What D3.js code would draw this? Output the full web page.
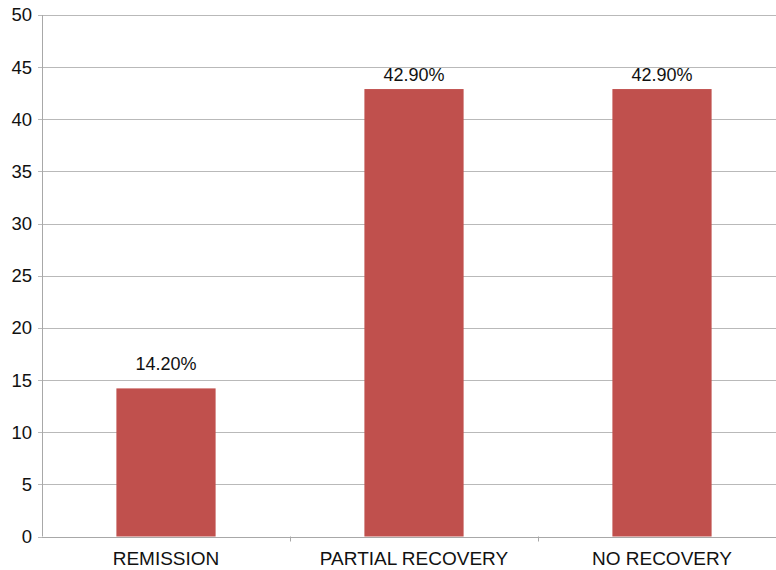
<!DOCTYPE html>
<html>
<head>
<meta charset="utf-8">
<script src="https://cdn.jsdelivr.net/npm/d3@7/dist/d3.min.js"></script>
<style>
  html, body { margin: 0; padding: 0; background: #fff; }
  svg { display: block; }
  text { font-family: "Liberation Sans", Arial, sans-serif; fill: #111; }
</style>
</head>
<body>
<svg id="chart" width="776" height="570"></svg>
<script>
// Outcome categories and their share of patients (%)
const categories = ["REMISSION", "PARTIAL RECOVERY", "NO RECOVERY"];
const values = [14.2, 42.9, 42.9];
const valueLabels = ["14.20%", "42.90%", "42.90%"];
const yTicks = [0, 5, 10, 15, 20, 25, 30, 35, 40, 45, 50];

const svg = d3.select("#chart");
const margin = { left: 42, top: 15, bottom: 33 };
const plotRight = 786; // plot area runs slightly past the visible edge
const height = 570;

const x = d3.scaleBand()
  .domain(categories)
  .range([margin.left, plotRight])
  .paddingInner(0.6)
  .paddingOuter(0.3);

const xOuter = d3.scaleBand()
  .domain(categories)
  .range([margin.left, plotRight]);

const y = d3.scaleLinear()
  .domain([0, 50])
  .range([height - margin.bottom - 0.5, margin.top]);

// Horizontal gridlines with small ticks left of the axis
const grid = svg.append("g");
grid.selectAll("line")
  .data(yTicks)
  .join("line")
  .attr("x1", margin.left - 4)
  .attr("x2", 776)
  .attr("y1", d => Math.round(y(d)) + 0.5)
  .attr("y2", d => Math.round(y(d)) + 0.5)
  .attr("stroke", "#b9b9b9")
  .attr("stroke-width", 1);

// Y axis labels
svg.append("g").selectAll("text")
  .data(yTicks)
  .join("text")
  .attr("x", 32)
  .attr("y", d => y(d))
  .attr("dy", "0.35em")
  .attr("text-anchor", "end")
  .style("font-size", "18.5px")
  .text(d => d);

// Bars
svg.append("g").selectAll("rect")
  .data(values)
  .join("rect")
  .attr("x", (d, i) => x(categories[i]))
  .attr("width", x.bandwidth())
  .attr("y", d => y(d))
  .attr("height", d => y(0) - y(d))
  .attr("fill", "#c0504d");

// Y axis line
svg.append("line")
  .attr("x1", margin.left + 0.5)
  .attr("x2", margin.left + 0.5)
  .attr("y1", y(50))
  .attr("y2", y(0))
  .attr("stroke", "#a8a8a8");

// X axis baseline and category separator ticks
svg.append("line")
  .attr("x1", margin.left)
  .attr("x2", 776)
  .attr("y1", Math.round(y(0)) + 0.5)
  .attr("y2", Math.round(y(0)) + 0.5)
  .attr("stroke", "#a8a8a8");

svg.append("g").selectAll("line")
  .data(categories.slice(1))
  .join("line")
  .attr("x1", d => Math.round(xOuter(d)) + 0.5)
  .attr("x2", d => Math.round(xOuter(d)) + 0.5)
  .attr("y1", y(0))
  .attr("y2", y(0) + 5)
  .attr("stroke", "#a8a8a8");

// Category labels
svg.append("g").selectAll("text")
  .data(categories)
  .join("text")
  .attr("x", d => xOuter(d) + xOuter.bandwidth() / 2)
  .attr("y", 565)
  .attr("text-anchor", "middle")
  .style("font-size", "19px")
  .text(d => d);

// Value labels above the bars
const labelGap = [18, 8, 8];
svg.append("g").selectAll("text")
  .data(values)
  .join("text")
  .attr("x", (d, i) => x(categories[i]) + x.bandwidth() / 2)
  .attr("y", (d, i) => y(d) - labelGap[i])
  .attr("text-anchor", "middle")
  .style("font-size", "18px")
  .text((d, i) => valueLabels[i]);
</script>
</body>
</html>
